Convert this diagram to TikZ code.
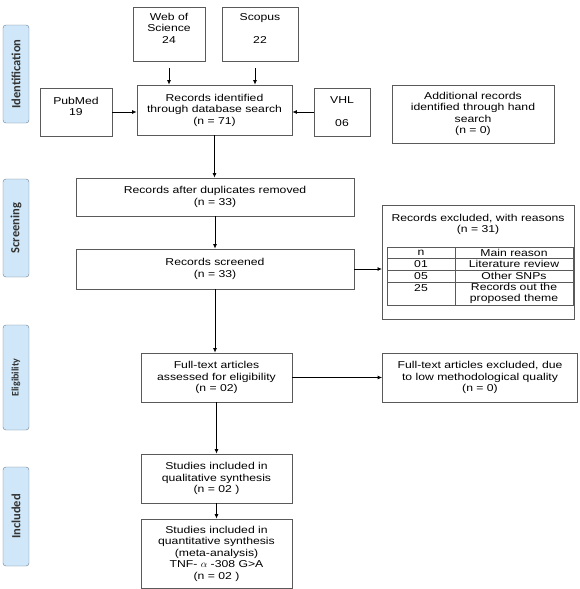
\documentclass[tikz,border=0pt]{standalone}
\usepackage{fontspec}
\setmainfont{Liberation Sans}[FakeStretch=1.22]
\newfontfamily\phasefont{Carlito}
\usetikzlibrary{positioning, arrows.meta, calc}

\definecolor{phasefill}{RGB}{207,231,248}
\definecolor{phaseline}{RGB}{105,125,145}
\definecolor{boxline}{RGB}{90,90,90}

\begin{document}
\begin{tikzpicture}[x=1pt, y=-1pt,
	box/.style={draw=boxline, line width=0.7pt, align=center, inner sep=0pt,
	            font=\fontsize{10}{11.5}\selectfont},
	cell/.style={box, minimum height=#1},
	phase/.style={draw=phaseline, fill=phasefill, rounded corners=3pt, rotate=90,
	              minimum width=#1, minimum height=26, inner sep=0pt, text=black!80,
	              font=\phasefont\bfseries\fontsize{12.5}{14}\selectfont},
	flow/.style={-{Latex[length=4.5pt, width=4pt]}, line width=0.8pt}]
	\useasboundingbox (0,0) rectangle (579,589);

	\node[phase=98] (identification) at (16,74) {Identification};
	\node[phase=98] (screening) at (16,228) {Screening};
	\node[phase=105, font=\phasefont\bfseries\fontsize{10}{12}\selectfont] (eligibility) at (16,377.5) {Eligibility};
	\node[phase=99] (included) at (16,516.5) {Included};

	\node[box, minimum width=72, minimum height=54] (wos) at (169,34) {Web of\\Science\\24\\~};
	\node[box, minimum width=76, minimum height=54] (scopus) at (260,34) {Scopus\\~\\22\\~};
	\node[box, minimum width=72, minimum height=48] (pubmed) at (76,112) {PubMed\\19\\~};
	\node[box, minimum width=155, minimum height=50] (rec) at (214.5,110) {Records identified\\through database search\\(n = 71)};
	\node[box, minimum width=56, minimum height=48] (vhl) at (342,112) {VHL\\~\\06};
	\node[box, minimum width=162, minimum height=58] (hand) at (473,114) {Additional records\\identified through hand\\search\\(n = 0)};

	\node[box, minimum width=278, minimum height=38] (dupl) at (215,197) {Records after duplicates removed\\(n = 33)};
	\node[box, minimum width=278, minimum height=40] (screened) at (215,269) {Records screened\\(n = 33)};

	\node[box, minimum width=192, minimum height=114, anchor=north west] (excl) at (382,205) {};
	\node[align=center, inner sep=0pt, font=\fontsize{10}{11.5}\selectfont] (excltitle) at (478,224.5) {Records excluded, with reasons\\(n = 31)};
	\node[cell=11, minimum width=68] (n-head) at (421,252.5) {n};
	\node[cell=11, minimum width=118] (reason-head) at (514,252.5) {Main reason};
	\node[cell=12, minimum width=68] (n-one) at (421,264) {01};
	\node[cell=12, minimum width=118] (reason-one) at (514,264) {Literature review};
	\node[cell=12, minimum width=68] (n-two) at (421,276) {05};
	\node[cell=12, minimum width=118] (reason-two) at (514,276) {Other SNPs};
	\node[cell=23, minimum width=68] (n-three) at (421,293.5) {25\\~};
	\node[cell=23, minimum width=118] (reason-three) at (514,293.5) {Records out the\\proposed theme};

	\node[box, minimum width=151, minimum height=49] (fulltext) at (216.5,377.5) {Full-text articles\\assessed for eligibility\\(n = 02)};
	\node[box, minimum width=195, minimum height=49] (ftexcl) at (480,377.5) {Full-text articles excluded, due\\to low methodological quality\\(n = 0)};
	\node[box, minimum width=151, minimum height=49] (qual) at (216.5,478.5) {Studies included in\\qualitative synthesis\\(n = 02 )};
	\node[box, minimum width=151, minimum height=69] (quant) at (216.5,553.5) {Studies included in\\quantitative synthesis\\(meta-analysis)\\TNF- $\alpha$ -308 G>A\\(n = 02 )};

	\draw[flow] ([yshift=-7pt]wos.south) -- (wos.south |- rec.north);
	\draw[flow] ([xshift=-5pt, yshift=-7pt]scopus.south) -- ([xshift=-5pt]scopus.south |- rec.north);
	\draw[flow] (pubmed.east) -- (pubmed.east -| rec.west);
	\draw[flow] (vhl.west) -- (vhl.west -| rec.east);
	\draw[flow] (rec.south) -- (rec.south |- dupl.north);
	\draw[flow] (dupl.south) -- (screened.north);
	\draw[flow] (screened.east) -- (screened.east -| excl.west);
	\draw[flow] (screened.south) -- (screened.south |- fulltext.north);
	\draw[flow] (fulltext.east) -- (ftexcl.west);
	\draw[flow] (fulltext.south) -- (qual.north);
	\draw[flow] (qual.south) -- (quant.north);
\end{tikzpicture}
\end{document}
